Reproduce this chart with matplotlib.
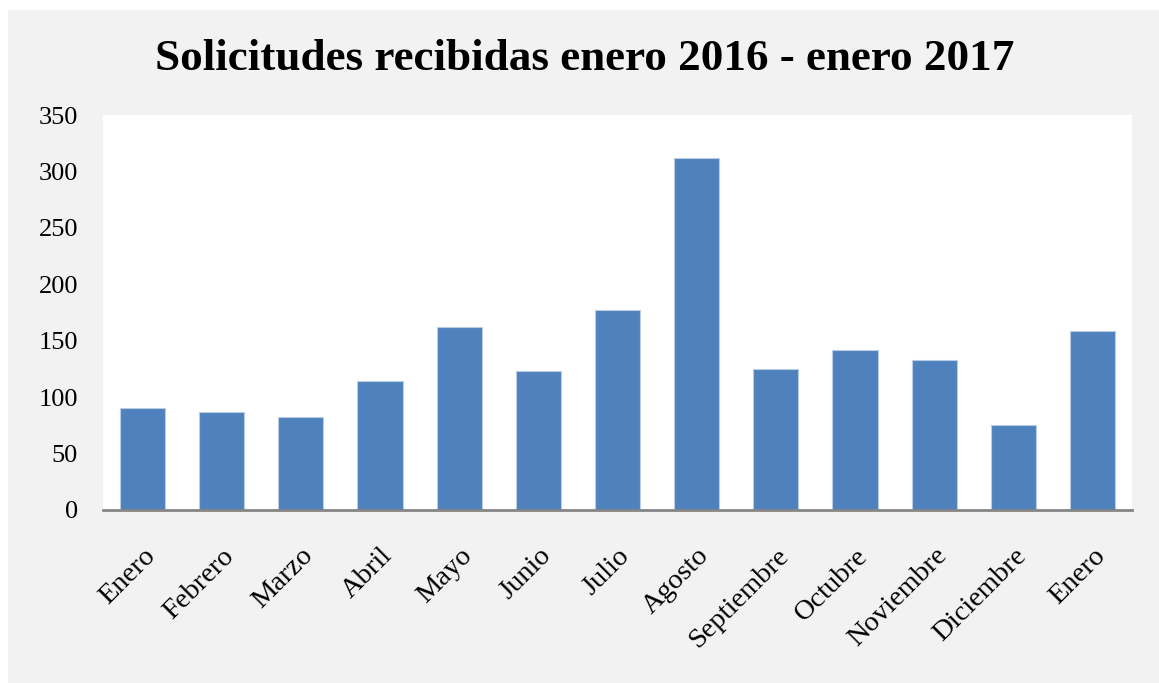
import matplotlib
matplotlib.use('Agg')
import matplotlib.pyplot as plt
from matplotlib.patches import Rectangle

# Datos
meses = ['Enero', 'Febrero', 'Marzo', 'Abril', 'Mayo', 'Junio', 'Julio',
         'Agosto', 'Septiembre', 'Octubre', 'Noviembre', 'Diciembre', 'Enero']
solicitudes = [90, 87, 82, 114, 162, 123, 177, 312, 125, 142, 133, 75, 159]
ticks_y = [0, 50, 100, 150, 200, 250, 300, 350]

plt.rcParams['font.family'] = ['Liberation Serif', 'DejaVu Serif']

fig = plt.figure(figsize=(11.59, 6.83), dpi=100, facecolor='white')

# Fondo gris del grafico (con margen blanco arriba y a la izquierda)
fig.patches.append(Rectangle((8 / 1159, 0), 1 - 8 / 1159, 1 - 10 / 683,
                             transform=fig.transFigure, facecolor='#F2F2F2',
                             edgecolor='none', zorder=-10))

ax = fig.add_axes([103 / 1159, 1 - 510 / 683, (1132 - 103) / 1159, (510 - 115) / 683])
ax.set_facecolor('white')

x = list(range(len(meses)))
ax.bar(x, solicitudes, width=0.57, color='#4F81BD', edgecolor='#B9CDE5',
       linewidth=0.8, zorder=2)

ax.set_xlim(-0.5, len(meses) - 0.5)
ax.set_ylim(0, 350)
ax.set_yticks(ticks_y)
ax.set_yticklabels([str(t) for t in ticks_y], fontsize=19)
ax.set_xticks(x)
ax.set_xticklabels(meses, rotation=45, ha='right', rotation_mode='anchor', fontsize=20.5)
ax.tick_params(axis='both', length=0)
ax.tick_params(axis='y', pad=18)
ax.tick_params(axis='x', pad=24)

for lado in ['top', 'right', 'left']:
    ax.spines[lado].set_visible(False)
ax.spines['bottom'].set_color('#868686')
ax.spines['bottom'].set_linewidth(2)

fig.text(585 / 1159, 1 - 59 / 683, 'Solicitudes recibidas enero 2016 - enero 2017',
         ha='center', va='center', fontsize=32.5, fontweight='bold')

plt.savefig('out.png', dpi=100, facecolor=fig.get_facecolor())
